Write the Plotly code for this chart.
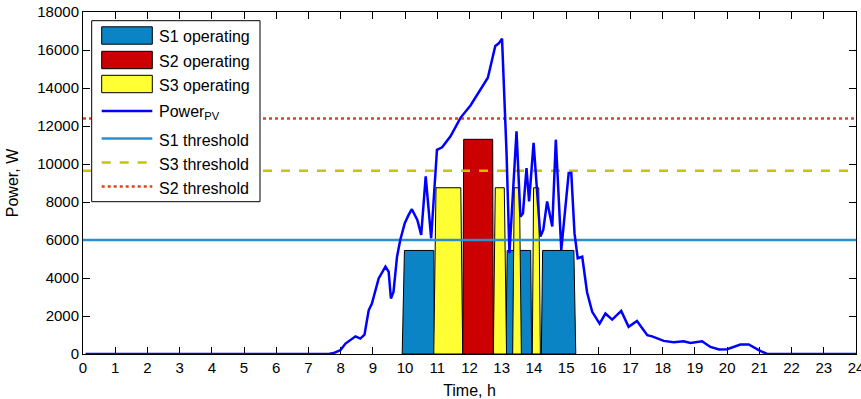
import plotly.graph_objects as go

# PV generation profile (hour of day, W)
pv_hours = [0.08, 7.63, 7.78, 7.99, 8.15, 8.30, 8.46, 8.61, 8.74, 8.87, 8.97,
            9.18, 9.39, 9.49, 9.56, 9.64, 9.75, 9.85, 9.99, 10.11, 10.21, 10.38,
            10.50, 10.64, 10.81, 10.99, 11.15, 11.41, 11.72, 12.03, 12.34, 12.57,
            12.80, 12.91, 13.01, 13.15, 13.24, 13.46, 13.58, 13.66, 13.77, 13.85,
            13.99, 14.20, 14.29, 14.41, 14.57, 14.68, 14.85, 15.08, 15.16, 15.26,
            15.36, 15.50, 15.65, 15.81, 16.04, 16.22, 16.43, 16.71, 16.94, 17.20,
            17.52, 17.67, 18.03, 18.34, 18.65, 18.86, 19.22, 19.48, 19.75, 20.00,
            20.41, 20.67, 20.98, 21.24, 24.0]
pv_power = [0, 0, 50, 200, 550, 720, 930, 810, 1020, 2300, 2660,
            3980, 4600, 4330, 2920, 3270, 5120, 6000, 6880, 7320, 7620, 7060,
            6270, 9350, 6090, 10750, 10880, 11460, 12430, 13080, 13920, 14540,
            16210, 16350, 16600, 10600, 5300, 11720, 7230, 7410, 9790, 8030,
            11110, 6180, 6530, 8030, 6710, 11280, 5480, 9520, 9520, 6360,
            5040, 5120, 3250, 2220, 1600, 2130, 1810, 2270, 1430, 1740,
            990, 930, 690, 620, 670, 580, 670, 370, 240, 250,
            500, 500, 200, 0, 0]

# Switching thresholds (W)
s1_threshold = 6000
s2_threshold = 12400
s3_threshold = 9650

# Load demand of each switched load (W)
s1_level = 5450
s2_level = 11300
s3_level = 8750

# Operating periods: [start of rise, fully on, start of fall, off] in hours
s1_periods = [[9.91, 9.98, 10.89, 10.91],
              [13.13, 13.17, 13.90, 13.93],
              [14.23, 14.27, 15.24, 15.30]]
s2_periods = [[11.79, 11.82, 12.72, 12.74]]
s3_periods = [[10.89, 10.96, 11.73, 11.79],
              [12.74, 12.80, 13.08, 13.15],
              [13.34, 13.39, 13.55, 13.61],
              [13.95, 13.99, 14.15, 14.20]]

FONT = "Liberation Sans, Arial, sans-serif"

S1_COLOR = "#0b84c6"
S2_COLOR = "#cc0000"
S3_COLOR = "#ffff33"
PV_COLOR = "#0000ff"
T1_COLOR = "#2a8fd0"
T3_COLOR = "#c8c400"
T2_COLOR = "#e2411c"

W, H = 861, 399
ML, MR, MT, MB = 83, 5, 12, 45


def period_polygons(periods, level):
    xs, ys = [], []
    for t0, t1, t2, t3 in periods:
        xs += [t0, t1, t2, t3, t0, None]
        ys += [0, level, level, 0, 0, None]
    return xs, ys


fig = go.Figure()

for name, periods, level, color in [
    ("S1 operating", s1_periods, s1_level, S1_COLOR),
    ("S3 operating", s3_periods, s3_level, S3_COLOR),
    ("S2 operating", s2_periods, s2_level, S2_COLOR),
]:
    xs, ys = period_polygons(periods, level)
    fig.add_trace(go.Scatter(
        x=xs, y=ys, mode="lines", fill="toself", fillcolor=color,
        line=dict(color="black", width=1), name=name, hoverinfo="skip",
    ))

fig.add_trace(go.Scatter(
    x=[0, 24], y=[s1_threshold] * 2, mode="lines",
    line=dict(color=T1_COLOR, width=2.5), name="S1 threshold",
))
fig.add_trace(go.Scatter(
    x=[0, 24], y=[s3_threshold] * 2, mode="lines",
    line=dict(color=T3_COLOR, width=2.5, dash="dash"), name="S3 threshold",
))
fig.add_trace(go.Scatter(
    x=[0, 24], y=[s2_threshold] * 2, mode="lines",
    line=dict(color=T2_COLOR, width=2.5, dash="dot"), name="S2 threshold",
))
fig.add_trace(go.Scatter(
    x=pv_hours, y=pv_power, mode="lines",
    line=dict(color=PV_COLOR, width=2.5), name="Power<sub>PV</sub>",
))


# ---- boxed legend in the upper-left corner of the axes ----
def px_x(p):
    return (p - ML) / (W - ML - MR)


def px_y(p):
    return 1 - (p - MT) / (H - MT - MB)


legend_entries = [
    ("rect", S1_COLOR, None, "S1 operating", 35.5),
    ("rect", S2_COLOR, None, "S2 operating", 60.0),
    ("rect", S3_COLOR, None, "S3 operating", 84.0),
    ("line", PV_COLOR, "solid", "Power<sub>PV</sub>", 111.0),
    ("line", T1_COLOR, "solid", "S1 threshold", 138.5),
    ("line", T3_COLOR, "dash", "S3 threshold", 162.5),
    ("line", T2_COLOR, "dot", "S2 threshold", 186.5),
]

shapes = [dict(type="rect", xref="paper", yref="paper",
               x0=px_x(91.7), x1=px_x(260), y0=px_y(201.7), y1=px_y(20.7),
               fillcolor="white", line=dict(color="black", width=1), layer="above")]
annotations = []
for kind, color, dash, label, cy in legend_entries:
    if kind == "rect":
        shapes.append(dict(type="rect", xref="paper", yref="paper",
                           x0=px_x(101.7), x1=px_x(152.3),
                           y0=px_y(cy + 8.7), y1=px_y(cy - 8.7),
                           fillcolor=color, line=dict(color="black", width=1),
                           layer="above"))
    else:
        shapes.append(dict(type="line", xref="paper", yref="paper",
                           x0=px_x(101.7), x1=px_x(152.3),
                           y0=px_y(cy), y1=px_y(cy),
                           line=dict(color=color, width=2.5, dash=dash),
                           layer="above"))
    annotations.append(dict(
        xref="paper", yref="paper", x=px_x(156.5), y=px_y(cy + 1.5),
        xanchor="left", yanchor="middle", showarrow=False, text=label,
        font=dict(family=FONT, size=16, color="black"),
    ))

axis_common = dict(
    showline=True, linecolor="black", linewidth=1, mirror="ticks",
    ticks="inside", ticklen=7, tickcolor="black", tickwidth=1,
    showgrid=False, zeroline=False, layer="below traces", automargin=False,
    tickfont=dict(family=FONT, size=15, color="black"),
)

fig.update_layout(
    width=W, height=H,
    margin=dict(l=ML, r=MR, t=MT, b=MB, autoexpand=False),
    paper_bgcolor="white", plot_bgcolor="white",
    font=dict(family=FONT, color="black"),
    showlegend=False,
    shapes=shapes,
    annotations=annotations,
    xaxis=dict(range=[0, 24], dtick=1, tick0=0, ticklabeloverflow="allow",
               title=dict(text="Time, h", font=dict(family=FONT, size=16), standoff=9),
               **axis_common),
    yaxis=dict(range=[0, 18000], dtick=2000, tick0=0, tickformat="d",
               title=dict(text="Power, W", font=dict(family=FONT, size=16), standoff=14),
               **axis_common),
)

fig.write_html("out.html")
